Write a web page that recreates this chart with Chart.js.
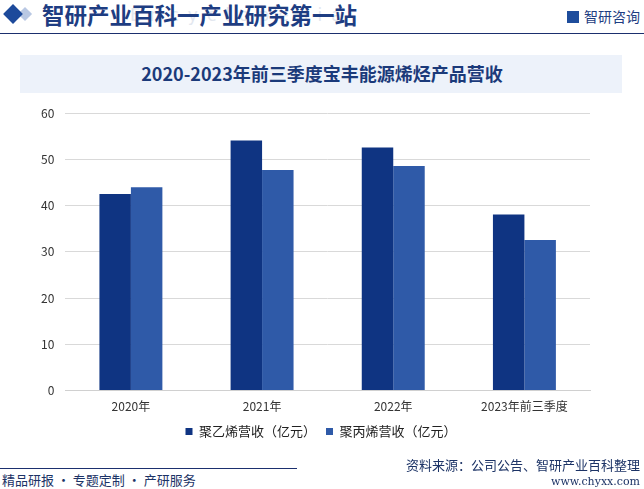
<!DOCTYPE html>
<html lang="zh">
<head>
  <meta charset="UTF-8" />
  <title>2020-2023年前三季度宝丰能源烯烃产品营收</title>
  <script src="https://cdn.jsdelivr.net/npm/chart.js"></script>
  <style>
    body { margin: 0; width: 644px; height: 489px; position: relative; background: #fff; overflow: hidden;
           font-family: "Noto Sans CJK SC", "Noto Sans", sans-serif; }
    .head { position: absolute; left: 0; top: 0; width: 644px; height: 33px; border-bottom: 1.5px solid #1b2f6e; }
    .diamond { position: absolute; left: 6px; top: 7px; width: 14px; height: 14px; background: #1d4a9b; transform: rotate(45deg); }
    .diamond2 { position: absolute; left: 20px; top: 9px; width: 10px; height: 10px; background: #b9c8e3; transform: rotate(45deg); }
    .htitle { position: absolute; left: 42px; top: -2px; font-size: 22.5px; font-weight: bold; color: #1e3d82; }
    .wm { position: absolute; left: 130px; top: 5px; font-size: 17px; color: #e3e7ef; letter-spacing: 9px; font-family: "DejaVu Sans"; }
    .logo { position: absolute; right: 4px; top: 6px; font-size: 14px; color: #1e3d82; }
    .logo b { display: inline-block; width: 12px; height: 12px; background: #1e4d9c; vertical-align: -1px; margin-right: 5px; }
    .band { position: absolute; left: 20px; top: 55px; width: 602px; height: 38px; background: #edf2fa; }
    .title { position: absolute; left: 0; width: 644px; top: 60px; text-align: center; font-size: 18px; font-weight: bold; color: #1b3a7a; }
    .box { position: absolute; left: 0; top: 95px; width: 644px; height: 361px; }
    .fline { position: absolute; left: 0; top: 468px; width: 297px; border-top: 1px solid #1b2f6e; }
    .fl { position: absolute; left: 2px; top: 470px; font-size: 13px; color: #1c3366; }
    .src { position: absolute; right: 4px; top: 455px; font-size: 13px; color: #1c3366; }
    .url { position: absolute; right: 4px; top: 475px; font-size: 11px; color: #1c3366; font-family: "DejaVu Serif", serif; }
  </style>
</head>
<body>
  <div class="head">
    <div class="diamond2"></div>
    <div class="diamond"></div>
    <div class="wm">Encyclopedia</div>
    <div class="htitle">智研产业百科一产业研究第一站</div>
    <div class="logo"><b></b>智研咨询</div>
  </div>
  <div class="band"></div>
  <div class="title">2020-2023年前三季度宝丰能源烯烃产品营收</div>
  <div class="box"><canvas id="chart"></canvas></div>
  <div class="fline"></div>
  <div class="fl">精品研报 · 专题定制 · 产研服务</div>
  <div class="src">资料来源：公司公告、智研产业百科整理</div>
  <div class="url">www.chyxx.com</div>

  <script>
    const categories = ['2020年', '2021年', '2022年', '2023年前三季度'];
    const pe = [42.5, 54.1, 52.6, 38.1];   // 聚乙烯营收（亿元）
    const pp = [44.0, 47.7, 48.6, 32.6];   // 聚丙烯营收（亿元）
    const yTicks = [0, 10, 20, 30, 40, 50, 60];

    const font = { family: '"Noto Sans CJK SC", sans-serif', size: 12 };

    // nudge the legend so it is centred on the page, like the original
    const shiftLegend = {
      id: 'shiftLegend',
      afterLayout(chart) {
        chart.legend.left += 11;
        chart.legend.right += 11;
      }
    };

    new Chart(document.getElementById('chart'), {
      type: 'bar',
      data: {
        labels: categories,
        datasets: [
          { label: '聚乙烯营收（亿元）', data: pe, backgroundColor: '#0f3482' },
          { label: '聚丙烯营收（亿元）', data: pp, backgroundColor: '#2f5aa8' }
        ]
      },
      plugins: [shiftLegend],
      options: {
        responsive: true,
        maintainAspectRatio: false,
        animation: false,
        layout: { padding: { left: 30, right: 54, top: 17, bottom: 8 } },
        datasets: { bar: { categoryPercentage: 0.48, barPercentage: 1.0 } },
        plugins: {
          legend: {
            position: 'bottom',
            labels: { boxWidth: 7, boxHeight: 7, color: '#222', font: { family: font.family, size: 13 }, padding: 10 }
          },
          tooltip: { enabled: false }
        },
        scales: {
          x: {
            grid: { display: false },
            border: { color: '#d0d0d0' },
            ticks: { color: '#333', font: font, padding: 1 }
          },
          y: {
            min: 0, max: 60,
            afterBuildTicks: axis => { axis.ticks = yTicks.map(v => ({ value: v })); },
            grid: { color: '#d9d9d9', drawTicks: false },
            border: { display: false },
            ticks: { color: '#333', font: font, padding: 11 }
          }
        }
      }
    });
  </script>
</body>
</html>
